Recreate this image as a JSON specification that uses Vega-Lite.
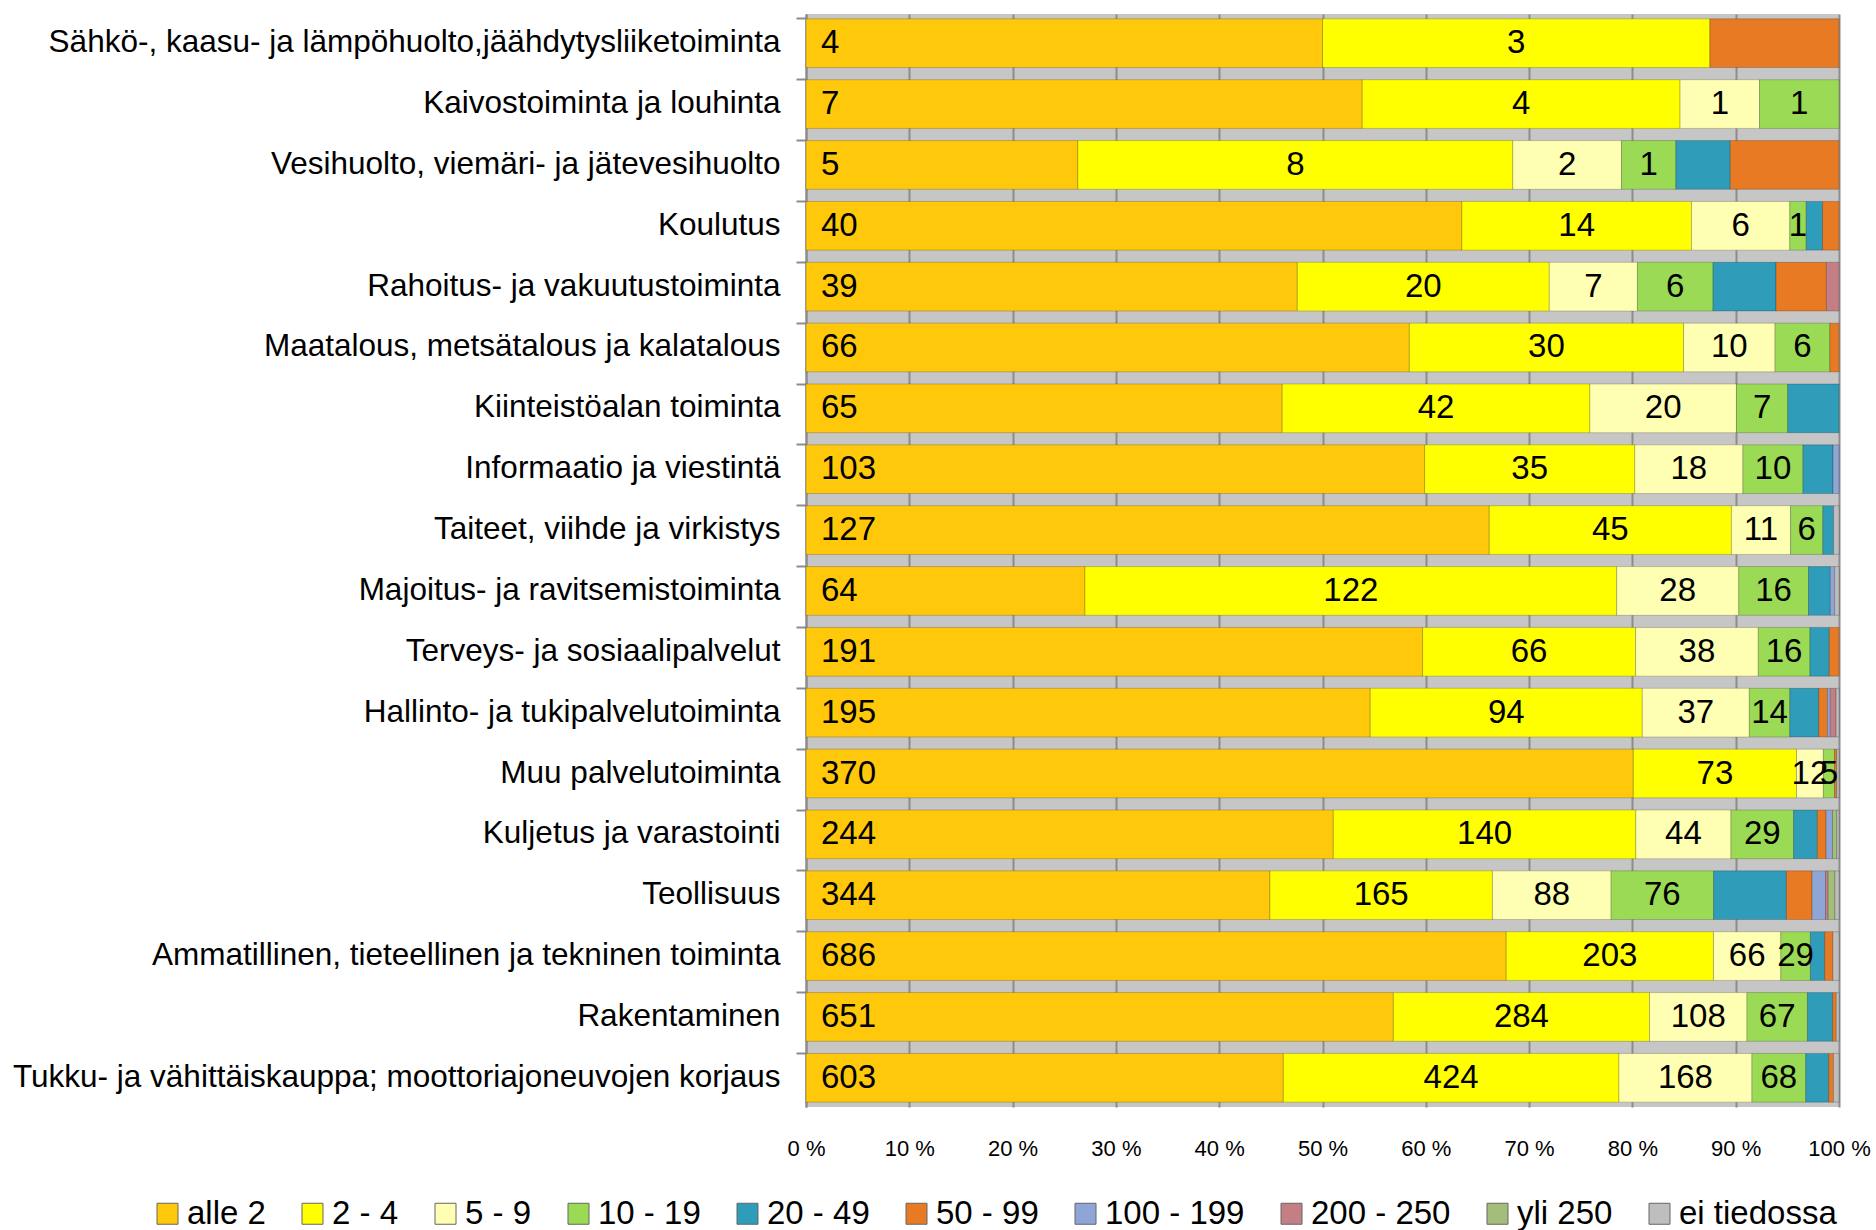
{
  "$schema": "https://vega.github.io/schema/vega-lite/v6.json",
  "width": 1033,
  "height": 1093,
  "autosize": {"type": "none"},
  "padding": {"left": 806, "top": 14, "right": 37, "bottom": 123},
  "background": "white",
  "config": {
    "font": "Liberation Sans",
    "view": {"stroke": null, "fill": "#C6C6C6"}
  },
  "data": {
    "values": [
      {"t": "Sähkö-, kaasu- ja lämpöhuolto,jäähdytysliiketoiminta", "c": "alle 2", "o": 0, "n": 4},
      {"t": "Sähkö-, kaasu- ja lämpöhuolto,jäähdytysliiketoiminta", "c": "2 - 4", "o": 1, "n": 3},
      {"t": "Sähkö-, kaasu- ja lämpöhuolto,jäähdytysliiketoiminta", "c": "50 - 99", "o": 5, "n": 1},
      {"t": "Kaivostoiminta ja louhinta", "c": "alle 2", "o": 0, "n": 7},
      {"t": "Kaivostoiminta ja louhinta", "c": "2 - 4", "o": 1, "n": 4},
      {"t": "Kaivostoiminta ja louhinta", "c": "5 - 9", "o": 2, "n": 1},
      {"t": "Kaivostoiminta ja louhinta", "c": "10 - 19", "o": 3, "n": 1},
      {"t": "Vesihuolto, viemäri- ja jätevesihuolto", "c": "alle 2", "o": 0, "n": 5},
      {"t": "Vesihuolto, viemäri- ja jätevesihuolto", "c": "2 - 4", "o": 1, "n": 8},
      {"t": "Vesihuolto, viemäri- ja jätevesihuolto", "c": "5 - 9", "o": 2, "n": 2},
      {"t": "Vesihuolto, viemäri- ja jätevesihuolto", "c": "10 - 19", "o": 3, "n": 1},
      {"t": "Vesihuolto, viemäri- ja jätevesihuolto", "c": "20 - 49", "o": 4, "n": 1},
      {"t": "Vesihuolto, viemäri- ja jätevesihuolto", "c": "50 - 99", "o": 5, "n": 2},
      {"t": "Koulutus", "c": "alle 2", "o": 0, "n": 40},
      {"t": "Koulutus", "c": "2 - 4", "o": 1, "n": 14},
      {"t": "Koulutus", "c": "5 - 9", "o": 2, "n": 6},
      {"t": "Koulutus", "c": "10 - 19", "o": 3, "n": 1},
      {"t": "Koulutus", "c": "20 - 49", "o": 4, "n": 1},
      {"t": "Koulutus", "c": "50 - 99", "o": 5, "n": 1},
      {"t": "Rahoitus- ja vakuutustoiminta", "c": "alle 2", "o": 0, "n": 39},
      {"t": "Rahoitus- ja vakuutustoiminta", "c": "2 - 4", "o": 1, "n": 20},
      {"t": "Rahoitus- ja vakuutustoiminta", "c": "5 - 9", "o": 2, "n": 7},
      {"t": "Rahoitus- ja vakuutustoiminta", "c": "10 - 19", "o": 3, "n": 6},
      {"t": "Rahoitus- ja vakuutustoiminta", "c": "20 - 49", "o": 4, "n": 5},
      {"t": "Rahoitus- ja vakuutustoiminta", "c": "50 - 99", "o": 5, "n": 4},
      {"t": "Rahoitus- ja vakuutustoiminta", "c": "200 - 250", "o": 7, "n": 1},
      {"t": "Maatalous, metsätalous ja kalatalous", "c": "alle 2", "o": 0, "n": 66},
      {"t": "Maatalous, metsätalous ja kalatalous", "c": "2 - 4", "o": 1, "n": 30},
      {"t": "Maatalous, metsätalous ja kalatalous", "c": "5 - 9", "o": 2, "n": 10},
      {"t": "Maatalous, metsätalous ja kalatalous", "c": "10 - 19", "o": 3, "n": 6},
      {"t": "Maatalous, metsätalous ja kalatalous", "c": "50 - 99", "o": 5, "n": 1},
      {"t": "Kiinteistöalan toiminta", "c": "alle 2", "o": 0, "n": 65},
      {"t": "Kiinteistöalan toiminta", "c": "2 - 4", "o": 1, "n": 42},
      {"t": "Kiinteistöalan toiminta", "c": "5 - 9", "o": 2, "n": 20},
      {"t": "Kiinteistöalan toiminta", "c": "10 - 19", "o": 3, "n": 7},
      {"t": "Kiinteistöalan toiminta", "c": "20 - 49", "o": 4, "n": 7},
      {"t": "Informaatio ja viestintä", "c": "alle 2", "o": 0, "n": 103},
      {"t": "Informaatio ja viestintä", "c": "2 - 4", "o": 1, "n": 35},
      {"t": "Informaatio ja viestintä", "c": "5 - 9", "o": 2, "n": 18},
      {"t": "Informaatio ja viestintä", "c": "10 - 19", "o": 3, "n": 10},
      {"t": "Informaatio ja viestintä", "c": "20 - 49", "o": 4, "n": 5},
      {"t": "Informaatio ja viestintä", "c": "100 - 199", "o": 6, "n": 1},
      {"t": "Taiteet, viihde ja virkistys", "c": "alle 2", "o": 0, "n": 127},
      {"t": "Taiteet, viihde ja virkistys", "c": "2 - 4", "o": 1, "n": 45},
      {"t": "Taiteet, viihde ja virkistys", "c": "5 - 9", "o": 2, "n": 11},
      {"t": "Taiteet, viihde ja virkistys", "c": "10 - 19", "o": 3, "n": 6},
      {"t": "Taiteet, viihde ja virkistys", "c": "20 - 49", "o": 4, "n": 2},
      {"t": "Taiteet, viihde ja virkistys", "c": "ei tiedossa", "o": 9, "n": 1},
      {"t": "Majoitus- ja ravitsemistoiminta", "c": "alle 2", "o": 0, "n": 64},
      {"t": "Majoitus- ja ravitsemistoiminta", "c": "2 - 4", "o": 1, "n": 122},
      {"t": "Majoitus- ja ravitsemistoiminta", "c": "5 - 9", "o": 2, "n": 28},
      {"t": "Majoitus- ja ravitsemistoiminta", "c": "10 - 19", "o": 3, "n": 16},
      {"t": "Majoitus- ja ravitsemistoiminta", "c": "20 - 49", "o": 4, "n": 5},
      {"t": "Majoitus- ja ravitsemistoiminta", "c": "100 - 199", "o": 6, "n": 1},
      {"t": "Majoitus- ja ravitsemistoiminta", "c": "ei tiedossa", "o": 9, "n": 1},
      {"t": "Terveys- ja sosiaalipalvelut", "c": "alle 2", "o": 0, "n": 191},
      {"t": "Terveys- ja sosiaalipalvelut", "c": "2 - 4", "o": 1, "n": 66},
      {"t": "Terveys- ja sosiaalipalvelut", "c": "5 - 9", "o": 2, "n": 38},
      {"t": "Terveys- ja sosiaalipalvelut", "c": "10 - 19", "o": 3, "n": 16},
      {"t": "Terveys- ja sosiaalipalvelut", "c": "20 - 49", "o": 4, "n": 6},
      {"t": "Terveys- ja sosiaalipalvelut", "c": "50 - 99", "o": 5, "n": 3},
      {"t": "Hallinto- ja tukipalvelutoiminta", "c": "alle 2", "o": 0, "n": 195},
      {"t": "Hallinto- ja tukipalvelutoiminta", "c": "2 - 4", "o": 1, "n": 94},
      {"t": "Hallinto- ja tukipalvelutoiminta", "c": "5 - 9", "o": 2, "n": 37},
      {"t": "Hallinto- ja tukipalvelutoiminta", "c": "10 - 19", "o": 3, "n": 14},
      {"t": "Hallinto- ja tukipalvelutoiminta", "c": "20 - 49", "o": 4, "n": 10},
      {"t": "Hallinto- ja tukipalvelutoiminta", "c": "50 - 99", "o": 5, "n": 3},
      {"t": "Hallinto- ja tukipalvelutoiminta", "c": "100 - 199", "o": 6, "n": 1},
      {"t": "Hallinto- ja tukipalvelutoiminta", "c": "200 - 250", "o": 7, "n": 2},
      {"t": "Hallinto- ja tukipalvelutoiminta", "c": "ei tiedossa", "o": 9, "n": 1},
      {"t": "Muu palvelutoiminta", "c": "alle 2", "o": 0, "n": 370},
      {"t": "Muu palvelutoiminta", "c": "2 - 4", "o": 1, "n": 73},
      {"t": "Muu palvelutoiminta", "c": "5 - 9", "o": 2, "n": 12},
      {"t": "Muu palvelutoiminta", "c": "10 - 19", "o": 3, "n": 5},
      {"t": "Muu palvelutoiminta", "c": "50 - 99", "o": 5, "n": 1},
      {"t": "Muu palvelutoiminta", "c": "ei tiedossa", "o": 9, "n": 1},
      {"t": "Kuljetus ja varastointi", "c": "alle 2", "o": 0, "n": 244},
      {"t": "Kuljetus ja varastointi", "c": "2 - 4", "o": 1, "n": 140},
      {"t": "Kuljetus ja varastointi", "c": "5 - 9", "o": 2, "n": 44},
      {"t": "Kuljetus ja varastointi", "c": "10 - 19", "o": 3, "n": 29},
      {"t": "Kuljetus ja varastointi", "c": "20 - 49", "o": 4, "n": 11},
      {"t": "Kuljetus ja varastointi", "c": "50 - 99", "o": 5, "n": 4},
      {"t": "Kuljetus ja varastointi", "c": "100 - 199", "o": 6, "n": 3},
      {"t": "Kuljetus ja varastointi", "c": "yli 250", "o": 8, "n": 2},
      {"t": "Kuljetus ja varastointi", "c": "ei tiedossa", "o": 9, "n": 1},
      {"t": "Teollisuus", "c": "alle 2", "o": 0, "n": 344},
      {"t": "Teollisuus", "c": "2 - 4", "o": 1, "n": 165},
      {"t": "Teollisuus", "c": "5 - 9", "o": 2, "n": 88},
      {"t": "Teollisuus", "c": "10 - 19", "o": 3, "n": 76},
      {"t": "Teollisuus", "c": "20 - 49", "o": 4, "n": 54},
      {"t": "Teollisuus", "c": "50 - 99", "o": 5, "n": 19},
      {"t": "Teollisuus", "c": "100 - 199", "o": 6, "n": 10},
      {"t": "Teollisuus", "c": "200 - 250", "o": 7, "n": 2},
      {"t": "Teollisuus", "c": "yli 250", "o": 8, "n": 5},
      {"t": "Teollisuus", "c": "ei tiedossa", "o": 9, "n": 3},
      {"t": "Ammatillinen, tieteellinen ja tekninen toiminta", "c": "alle 2", "o": 0, "n": 686},
      {"t": "Ammatillinen, tieteellinen ja tekninen toiminta", "c": "2 - 4", "o": 1, "n": 203},
      {"t": "Ammatillinen, tieteellinen ja tekninen toiminta", "c": "5 - 9", "o": 2, "n": 66},
      {"t": "Ammatillinen, tieteellinen ja tekninen toiminta", "c": "10 - 19", "o": 3, "n": 29},
      {"t": "Ammatillinen, tieteellinen ja tekninen toiminta", "c": "20 - 49", "o": 4, "n": 14},
      {"t": "Ammatillinen, tieteellinen ja tekninen toiminta", "c": "50 - 99", "o": 5, "n": 8},
      {"t": "Ammatillinen, tieteellinen ja tekninen toiminta", "c": "ei tiedossa", "o": 9, "n": 6},
      {"t": "Rakentaminen", "c": "alle 2", "o": 0, "n": 651},
      {"t": "Rakentaminen", "c": "2 - 4", "o": 1, "n": 284},
      {"t": "Rakentaminen", "c": "5 - 9", "o": 2, "n": 108},
      {"t": "Rakentaminen", "c": "10 - 19", "o": 3, "n": 67},
      {"t": "Rakentaminen", "c": "20 - 49", "o": 4, "n": 28},
      {"t": "Rakentaminen", "c": "50 - 99", "o": 5, "n": 4},
      {"t": "Rakentaminen", "c": "ei tiedossa", "o": 9, "n": 3},
      {"t": "Tukku- ja vähittäiskauppa; moottoriajoneuvojen korjaus", "c": "alle 2", "o": 0, "n": 603},
      {"t": "Tukku- ja vähittäiskauppa; moottoriajoneuvojen korjaus", "c": "2 - 4", "o": 1, "n": 424},
      {"t": "Tukku- ja vähittäiskauppa; moottoriajoneuvojen korjaus", "c": "5 - 9", "o": 2, "n": 168},
      {"t": "Tukku- ja vähittäiskauppa; moottoriajoneuvojen korjaus", "c": "10 - 19", "o": 3, "n": 68},
      {"t": "Tukku- ja vähittäiskauppa; moottoriajoneuvojen korjaus", "c": "20 - 49", "o": 4, "n": 29},
      {"t": "Tukku- ja vähittäiskauppa; moottoriajoneuvojen korjaus", "c": "50 - 99", "o": 5, "n": 6},
      {"t": "Tukku- ja vähittäiskauppa; moottoriajoneuvojen korjaus", "c": "ei tiedossa", "o": 9, "n": 7}
    ]
  },
  "encoding": {
    "y": {
      "field": "t",
      "type": "nominal",
      "sort": null,
      "scale": {"paddingInner": 0.2, "paddingOuter": 0.08},
      "axis": {
        "title": null,
        "labelFontSize": 31.5,
        "labelColor": "black",
        "labelLimit": 900,
        "labelPadding": 16,
        "tickSize": 10,
        "tickWidth": 2,
        "tickColor": "#8C8C8C",
        "domainColor": "#8C8C8C",
        "domainWidth": 2,
        "bandPosition": 0,
        "grid": false
      }
    }
  },
  "layer": [
    {
      "mark": {"type": "bar", "stroke": "black", "strokeOpacity": 0.2, "strokeWidth": 1},
      "encoding": {
        "x": {
          "field": "n",
          "type": "quantitative",
          "stack": "normalize",
          "scale": {"domain": [0, 1], "nice": false},
          "axis": {
            "title": null,
            "values": [0, 0.1, 0.2, 0.3, 0.4, 0.5, 0.6, 0.7, 0.8, 0.9, 1],
            "labelExpr": "format(datum.value * 100, 'd') + ' %'",
            "labelFontSize": 22,
            "labelColor": "black",
            "labelPadding": 31,
            "labelFlush": false,
            "labelOverlap": false,
            "ticks": false,
            "domain": false,
            "grid": true,
            "gridColor": "#8C8C8C",
            "gridWidth": 2
          }
        },
        "color": {
          "field": "c",
          "type": "nominal",
          "scale": {
            "domain": ["alle 2", "2 - 4", "5 - 9", "10 - 19", "20 - 49", "50 - 99", "100 - 199", "200 - 250", "yli 250", "ei tiedossa"],
            "range": ["#FFC80A", "#FFFF00", "#FFFFB3", "#9BDA55", "#2F9CBA", "#E87A24", "#8FA5D6", "#C47F85", "#A3BE7A", "#BEBEBE"]
          },
          "legend": {
            "orient": "none",
            "legendX": -655,
            "legendY": 1183,
            "direction": "horizontal",
            "columns": 10,
            "title": null,
            "labelFontSize": 33,
            "labelColor": "black",
            "labelLimit": 400,
            "labelOffset": 3,
            "columnPadding": 30,
            "symbolType": "square",
            "symbolSize": 441,
            "symbolStrokeColor": "#666666",
            "symbolStrokeWidth": 1,
            "padding": 0
          }
        },
        "order": {"field": "o", "type": "quantitative"}
      }
    },
    {
      "mark": {"type": "text", "fontSize": 33, "baseline": "middle", "color": "black"},
      "encoding": {
        "x": {"field": "n", "type": "quantitative", "stack": "normalize", "bandPosition": 0.5},
        "detail": {"field": "c", "type": "nominal"},
        "order": {"field": "o", "type": "quantitative"},
        "text": {
          "condition": {"test": "datum.c === '2 - 4' || datum.c === '5 - 9' || datum.c === '10 - 19'", "field": "n", "type": "quantitative"},
          "value": ""
        }
      }
    },
    {
      "transform": [{"filter": "datum.c === 'alle 2'"}],
      "mark": {"type": "text", "fontSize": 33, "baseline": "middle", "align": "left", "dx": 15, "color": "black"},
      "encoding": {
        "x": {"datum": 0, "type": "quantitative"},
        "text": {"field": "n", "type": "quantitative"}
      }
    }
  ]
}
